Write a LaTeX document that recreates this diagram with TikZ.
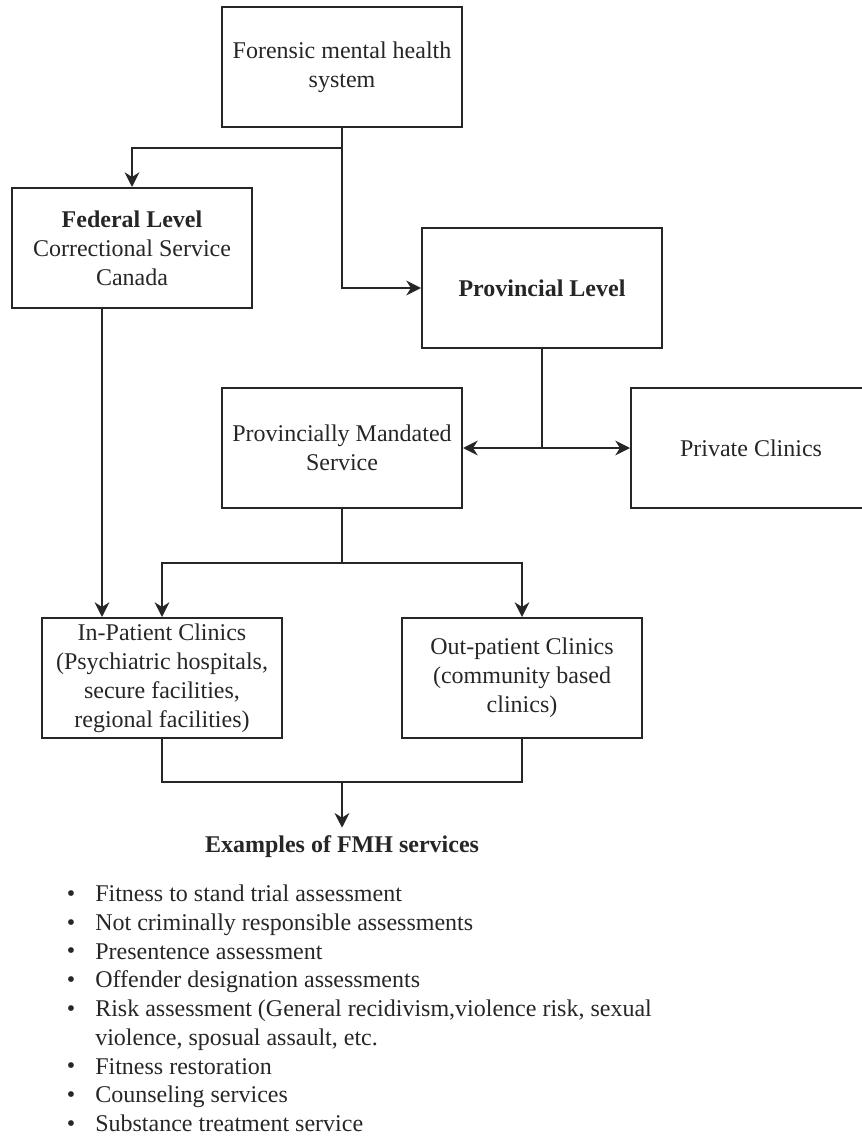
\documentclass[tikz,border=0pt]{standalone}
\usepackage{fontspec}
\setmainfont{Liberation Serif}
\usepackage{tikz}
\usetikzlibrary{positioning,calc,arrows.meta}
\definecolor{inkgray}{HTML}{262626}
\tikzset{
  orgfont/.style={font=\fontsize{18pt}{21.75pt}\selectfont},
  orgbox/.style={draw=inkgray, line width=1.5pt, align=center, text=inkgray,
    minimum width=180pt, minimum height=90pt, inner sep=2pt},
  orgline/.style={draw=inkgray, line width=1.5pt},
  orgarrow/.style={orgline, -{Stealth[length=11pt, width=11pt, inset=3.5pt]}},
  itemtext/.style={anchor=base west, inner sep=0pt, text=inkgray},
  itembullet/.style={anchor=center, inner sep=0pt, text=inkgray},
}
\begin{document}
\begin{tikzpicture}[x=0.75pt,y=-0.75pt,orgfont]
  \useasboundingbox (0,0) rectangle (862,1137);

  % Boxes
  \node[orgbox] (fmh) at (342,67.5) {Forensic mental health\\system};
  \node[orgbox] (fed) at (132,248) {\textbf{Federal Level}\\Correctional Service\\Canada};
  \node[orgbox] (prov) at (542,288) {\textbf{Provincial Level}};
  \node[orgbox] (pms) at (342,448) {Provincially Mandated\\Service};
  \node[orgbox] (priv) at (751,448) {Private Clinics};
  \node[orgbox] (inpat) at (162,678) {In-Patient Clinics\\(Psychiatric hospitals,\\secure facilities,\\regional facilities)};
  \node[orgbox] (outpat) at (522,678) {Out-patient Clinics\\(community based\\clinics)};
  \node[inner xsep=0pt, inner ysep=6pt, text=inkgray] (heading) at (342,847) {\textbf{Examples of FMH services}};

  % Junctions
  \coordinate (split1) at (fmh.south |- 0,148);
  \coordinate (split2) at (prov.south |- pms.east);
  \coordinate (split3) at (pms.south |- 0,563);
  \coordinate (fedfoot) at ($(fed.south)+(-30,0)$);
  \coordinate (merge) at (heading.north |- 0,782);

  % Connectors
  \draw[orgline] (fmh.south) -- (split1);
  \draw[orgarrow] (split1) -| (fed.north);
  \draw[orgarrow] (split1) |- (prov.west);
  \draw[orgline] (prov.south) -- (split2);
  \draw[orgarrow] (split2) -- (pms.east);
  \draw[orgarrow] (split2) -- (priv.west);
  \draw[orgarrow] (fedfoot) -- (fedfoot |- inpat.north);
  \draw[orgline] (pms.south) -- (split3);
  \draw[orgarrow] (split3) -| (inpat.north);
  \draw[orgarrow] (split3) -| (outpat.north);
  \draw[orgline] (inpat.south) |- (merge);
  \draw[orgline] (outpat.south) |- (merge);
  \draw[orgarrow] (merge) -- (heading.north);

  % Service list
  \foreach \k/\txt in {0/Fitness to stand trial assessment,
      1/Not criminally responsible assessments,
      2/Presentence assessment,
      3/Offender designation assessments,
      4/{Risk assessment (General recidivism,violence risk, sexual},
      5/{violence, sposual assault, etc.},
      6/Fitness restoration,
      7/Counseling services,
      8/Substance treatment service}
    \node[itemtext] (line\k) at (95,{901.5+28.75*\k}) {\txt};
  \foreach \k in {0,1,2,3,4,6,7,8}
    \node[itembullet] (dot\k) at (71,{896+28.75*\k}) {\textbullet};
\end{tikzpicture}
\end{document}
